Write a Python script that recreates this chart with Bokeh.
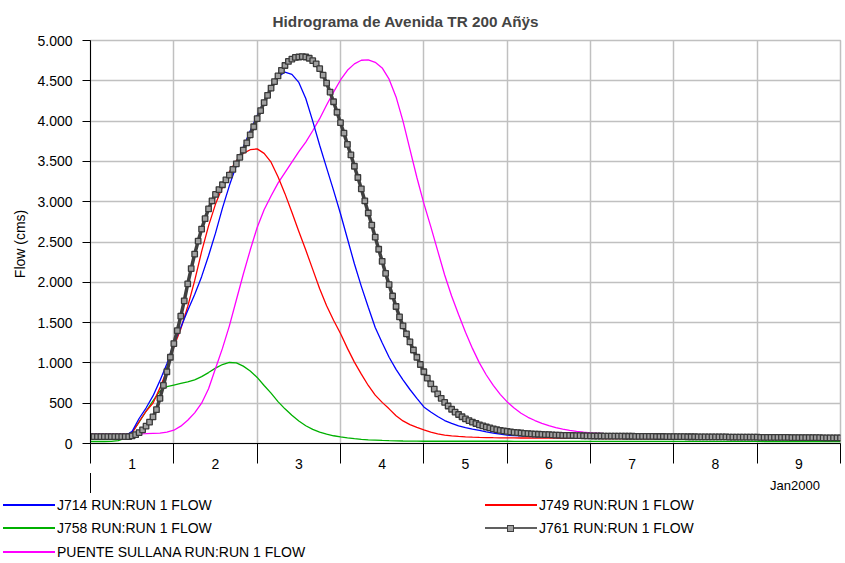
from bokeh.plotting import figure
from bokeh.layouts import column
from bokeh.models import Range1d, FixedTicker, Div
from bokeh.embed import file_html
from bokeh.resources import INLINE

# time axis in hours from start of day 1 (Jan2000)
hours_2h = list(range(0, 217, 2))
hours_1h = list(range(0, 217))

J714 = [90, 90, 90, 90, 90, 92, 150, 310, 440, 590, 780, 990, 1240,
        1440, 1650, 1850, 2070, 2330, 2610, 2920, 3200, 3450, 3680, 3880, 4070,
        4250, 4420, 4550, 4607, 4580, 4480, 4280, 4000, 3700, 3420, 3140, 2851,
        2540, 2230, 1950, 1690, 1440, 1250, 1070, 920, 790, 670, 560, 454,
        390, 335, 285, 250, 220, 198, 178, 162, 145, 130, 115, 103,
        98, 94, 90, 87, 85, 83, 81, 79, 78, 77, 76, 75,
        74, 74, 73, 73, 72, 72, 71, 71, 70, 70, 69, 69, 68, 68, 67, 67, 66, 66,
        65, 65, 64, 64, 63, 63, 62, 62, 62, 61, 61, 61, 60, 60, 60, 60, 60, 60]

J749 = [80, 80, 80, 80, 80, 82, 130, 270, 400, 500, 690, 910, 1200,
        1420, 1700, 2020, 2380, 2700, 2970, 3180, 3370, 3510, 3600, 3645, 3655,
        3600, 3490, 3310, 3100, 2870, 2630, 2400, 2160, 1920, 1710, 1530, 1364,
        1180, 1010, 860, 720, 600, 510, 430, 345, 280, 235, 200, 168,
        140, 120, 105, 95, 88, 83, 79, 76, 74, 72, 71, 70,
        69, 68, 68, 67, 67, 66, 66, 65, 65, 64, 64, 63,
        63, 62, 62, 61, 61, 60, 60, 59, 59, 58, 58, 57, 57, 56, 56, 55, 55, 54,
        54, 53, 53, 52, 52, 51, 51, 50, 50, 50, 49, 49, 49, 48, 48, 48, 48, 48]

J758 = [25, 25, 25, 26, 35, 65, 140, 265, 400, 530, 650, 705, 725,
        745, 764, 790, 830, 880, 935, 980, 1005, 1000, 960, 900, 820,
        720, 625, 520, 430, 350, 280, 220, 175, 140, 115, 96, 82,
        70, 60, 52, 46, 42, 38, 35, 33, 31, 30, 29, 28,
        28, 28, 28, 28, 28, 28, 28, 28, 28, 28, 28, 28,
        27, 27, 27, 27, 27, 27, 27, 27, 27, 27, 27, 27,
        27, 27, 27, 27, 27, 27, 27, 27, 27, 27, 27, 27,
        26, 26, 26, 26, 26, 26, 26, 26, 26, 26, 26, 26,
        25, 25, 25, 25, 25, 25, 25, 25, 25, 25, 25, 25]

PUENTE_SULLANA = [115, 115, 115, 115, 116, 117, 118, 120, 122, 125, 128, 142, 165,
                  215, 289, 380, 500, 680, 930, 1180, 1460, 1780, 2100, 2400, 2680,
                  2900, 3070, 3230, 3360, 3490, 3620, 3740, 3880, 4030, 4200, 4360, 4510,
                  4630, 4710, 4755, 4760, 4730, 4660, 4520, 4300, 4000, 3650, 3300, 2980,
                  2690, 2390, 2090, 1830, 1600, 1380, 1180, 1000, 850, 720, 610, 516,
                  440, 375, 325, 285, 250, 222, 198, 178, 162, 150, 140, 132,
                  127, 123, 120, 118, 116, 115, 114, 113, 112, 111, 110, 109, 108, 107,
                  106, 105, 104, 103, 102, 101, 100, 99, 98, 97, 96, 95, 94, 93, 92, 91,
                  90, 89, 88, 86, 84, 82]

J761 = [85, 85, 85, 85, 85, 85, 85, 85, 85, 85, 85, 85,
        95, 110, 135, 170, 215, 265, 330, 420, 560, 720, 890, 1070, 1240,
        1400, 1580, 1770, 1980, 2170, 2350, 2510, 2660, 2790, 2910, 3010, 3090,
        3150, 3210, 3270, 3330, 3400, 3470, 3550, 3640, 3730, 3830, 3930, 4030,
        4130, 4230, 4320, 4410, 4490, 4560, 4630, 4690, 4740, 4770, 4790,
        4795, 4800, 4795, 4780, 4750, 4710, 4650, 4570, 4470, 4360, 4240, 4110, 3980,
        3850, 3710, 3580, 3440, 3300, 3160, 3010, 2860, 2710, 2560, 2410, 2260,
        2110, 1970, 1830, 1700, 1570, 1460, 1360, 1260, 1160, 1070, 980, 890,
        810, 740, 675, 615, 560, 510, 465, 425, 390, 360, 332, 305,
        285, 265, 248, 232, 218, 205, 193, 182, 172, 164, 156, 150,
        144, 139, 134, 130, 126, 123, 120, 117, 115, 113, 111, 109,
        107, 105, 104, 102, 101, 100, 99, 98, 97, 96, 95, 94,
        93, 93, 93, 92, 92, 92, 91, 91, 91, 90, 90, 90, 89, 89, 89, 88, 88, 88,
        87, 87, 87, 86, 86, 86, 85, 85, 85, 84, 84, 84, 83, 83, 83, 82, 82, 82,
        81, 81, 81, 80, 80, 80, 79, 79, 79, 78, 78, 78, 77, 77, 77, 76, 76, 76,
        75, 75, 75, 74, 74, 74, 73, 73, 73, 72, 72, 72, 71, 71, 71, 70, 70, 70]

y_ticks = [0, 500, 1000, 1500, 2000, 2500, 3000, 3500, 4000, 4500, 5000]
y_tick_labels = ["0", "500", "1.000", "1.500", "2.000", "2.500", "3.000",
                 "3.500", "4.000", "4.500", "5.000"]
day_labels = ["1", "2", "3", "4", "5", "6", "7", "8", "9"]
date_label = "Jan2000"
series_labels = ["J714 RUN:RUN 1 FLOW", "J749 RUN:RUN 1 FLOW", "J758 RUN:RUN 1 FLOW",
                 "J761 RUN:RUN 1 FLOW", "PUENTE SULLANA RUN:RUN 1 FLOW"]
colors = ["#0000ff", "#ff0000", "#00b000", "#404040", "#ff00ff"]

FONT = "Liberation Sans"


def to_days(hours, values):
    n = min(len(hours), len(values))
    return [h / 24.0 for h in hours[:n]], values[:n]


p = figure(width=845, height=475, x_range=Range1d(0, 9), y_range=Range1d(0, 5000),
           output_backend="svg", toolbar_location=None,
           min_border_left=90, min_border_right=5, min_border_top=40, min_border_bottom=32)
p.background_fill_color = "white"
p.border_fill_color = "white"
p.outline_line_color = "#c0c0c0"
p.outline_line_width = 1.5

p.title.text = "Hidrograma de Avenida TR 200 Añÿs"
p.title.text_font = FONT
p.title.text_font_size = "15.3px"
p.title.text_font_style = "bold"
p.title.text_line_height = 1.0
p.title.align = "left"
p.title.offset = 182
p.title.standoff = 21

# y axis
p.yaxis.ticker = FixedTicker(ticks=y_ticks, minor_ticks=[])
p.yaxis.major_label_overrides = {t: l for t, l in zip(y_ticks, y_tick_labels)}
p.yaxis.major_tick_out = 8
p.yaxis.major_tick_in = 0
p.yaxis.minor_tick_out = 0
p.yaxis.major_label_standoff = 10
p.yaxis.major_label_text_font = FONT
p.yaxis.major_label_text_font_size = "14px"
p.yaxis.major_label_text_color = "black"
p.yaxis.axis_label = "Flow  (cms)"
p.yaxis.axis_label_text_font = FONT
p.yaxis.axis_label_text_font_size = "14px"
p.yaxis.axis_label_text_font_style = "normal"
p.yaxis.axis_label_text_color = "black"
p.yaxis.axis_label_standoff = 6
p.yaxis.axis_line_color = "black"
p.yaxis.major_tick_line_color = "black"

# x axis: labels centred in each day, tick marks at day boundaries
mid_days = [i + 0.5 for i in range(9)]
p.xaxis.ticker = FixedTicker(ticks=mid_days, minor_ticks=list(range(10)))
p.xaxis.major_label_overrides = {t: l for t, l in zip(mid_days, day_labels)}
p.xaxis.major_tick_out = 0
p.xaxis.major_tick_in = 0
p.xaxis.minor_tick_out = 20
p.xaxis.minor_tick_in = 0
p.xaxis.minor_tick_line_color = "black"
p.xaxis.major_label_standoff = -5
p.xaxis.major_label_text_font = FONT
p.xaxis.major_label_text_font_size = "14px"
p.xaxis.major_label_text_color = "black"
p.xaxis.axis_line_color = "black"

p.xgrid.ticker = FixedTicker(ticks=list(range(10)))
for g in (p.xgrid, p.ygrid):
    g.grid_line_color = "#c0c0c0"
    g.grid_line_width = 1.5

x, y = to_days(hours_2h, J758)
p.line(x, y, color=colors[2], line_width=1.3)
x, y = to_days(hours_2h, PUENTE_SULLANA)
p.line(x, y, color=colors[4], line_width=1.3)
x, y = to_days(hours_2h, J749)
p.line(x, y, color=colors[1], line_width=1.3)
x, y = to_days(hours_2h, J714)
p.line(x, y, color=colors[0], line_width=1.3)
x, y = to_days(hours_1h, J761)
p.line(x, y, color=colors[3], line_width=3.5)
p.scatter(x, y, marker="square", size=5.5, fill_color="#a0a0a0",
          line_color="#3a3a3a", line_width=1.3)


# legend strip (HTML) below the chart, with the date label and long first tick
def swatch(color, marker=False):
    inner = ""
    if marker:
        inner = ('<span style="position:absolute;left:22px;top:-4px;width:7px;height:7px;'
                 'box-sizing:border-box;background:#a0a0a0;border:1.5px solid #404040;"></span>')
        color = "#606060"
    return ('<span style="position:relative;display:inline-block;width:52px;height:0;'
            f'border-top:2px solid {color};">{inner}</span>')


def item(left, center, label, sw):
    return (f'<div style="position:absolute;left:{left}px;top:{center - 9}px;height:18px;'
            'display:flex;align-items:center;white-space:nowrap;">'
            f'{sw}<span style="margin-left:2px;">{label}</span></div>')


html = (f'<div style="position:relative;width:845px;height:88px;font-family:\'{FONT}\';'
        'font-size:14px;color:black;background:white;">'
        '<div style="position:absolute;left:90px;top:-2px;width:0;height:20px;'
        'border-left:1px solid black;"></div>'
        f'<div style="position:absolute;right:25px;top:2px;font-size:13px;">{date_label}</div>'
        + item(3, 30, series_labels[0], swatch(colors[0]))
        + item(485, 30, series_labels[1], swatch(colors[1]))
        + item(3, 53, series_labels[2], swatch(colors[2]))
        + item(485, 53, series_labels[3], swatch(colors[3], marker=True))
        + item(3, 77, series_labels[4], swatch(colors[4]))
        + '</div>')

legend_strip = Div(text=html, width=845, height=88, margin=0)

open("out.html", "w").write(file_html(column(p, legend_strip, spacing=0), INLINE))
